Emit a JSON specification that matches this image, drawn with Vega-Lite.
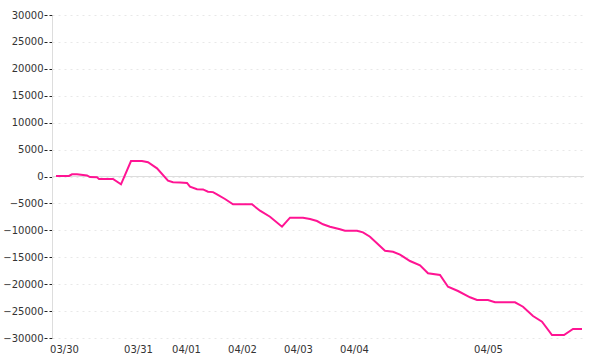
{
  "$schema": "https://vega.github.io/schema/vega-lite/v6.json",
  "width": 532,
  "height": 323,
  "autosize": "none",
  "padding": {"left": 52, "top": 15, "right": 16, "bottom": 22},
  "background": "white",
  "config": {
    "view": {"stroke": null},
    "axis": {"labelFont": "DejaVu Sans", "labelFontSize": 10, "labelColor": "#333", "titleFont": "DejaVu Sans"}
  },
  "data": {
    "values": [
      {"i": 4, "v": 100}, {"i": 17, "v": 100}, {"i": 20, "v": 400}, {"i": 25, "v": 400},
      {"i": 35, "v": 200}, {"i": 38, "v": -100}, {"i": 45, "v": -150}, {"i": 47, "v": -450},
      {"i": 61, "v": -450}, {"i": 69, "v": -1450}, {"i": 79, "v": 2880}, {"i": 90, "v": 2880},
      {"i": 96, "v": 2640}, {"i": 105, "v": 1520}, {"i": 116, "v": -780}, {"i": 121, "v": -1080},
      {"i": 128, "v": -1100}, {"i": 135, "v": -1200}, {"i": 138, "v": -1900}, {"i": 145, "v": -2380},
      {"i": 151, "v": -2400}, {"i": 156, "v": -2820}, {"i": 161, "v": -2900}, {"i": 165, "v": -3300},
      {"i": 173, "v": -4180}, {"i": 181, "v": -5170}, {"i": 200, "v": -5170}, {"i": 208, "v": -6350},
      {"i": 218, "v": -7470}, {"i": 230, "v": -9320}, {"i": 238, "v": -7650}, {"i": 251, "v": -7650},
      {"i": 258, "v": -7900}, {"i": 265, "v": -8270}, {"i": 271, "v": -8880}, {"i": 278, "v": -9320},
      {"i": 288, "v": -9810}, {"i": 293, "v": -10070}, {"i": 305, "v": -10070}, {"i": 311, "v": -10370},
      {"i": 318, "v": -11180}, {"i": 333, "v": -13780}, {"i": 341, "v": -13970}, {"i": 348, "v": -14500},
      {"i": 358, "v": -15700}, {"i": 368, "v": -16500}, {"i": 376, "v": -17980}, {"i": 388, "v": -18290},
      {"i": 396, "v": -20470}, {"i": 406, "v": -21270}, {"i": 418, "v": -22440}, {"i": 425, "v": -22940},
      {"i": 436, "v": -22940}, {"i": 443, "v": -23370}, {"i": 463, "v": -23370}, {"i": 471, "v": -24190},
      {"i": 481, "v": -25920}, {"i": 490, "v": -26970}, {"i": 500, "v": -29440}, {"i": 512, "v": -29440},
      {"i": 521, "v": -28330}, {"i": 530, "v": -28330}
    ]
  },
  "encoding": {
    "y": {
      "field": "v", "type": "quantitative",
      "scale": {"domain": [-30000, 30000], "nice": false},
      "axis": {
        "title": null, "values": [-30000, -25000, -20000, -15000, -10000, -5000, 0, 5000, 10000, 15000, 20000, 25000, 30000],
        "format": "d", "domain": true, "domainColor": "#dddddd", "domainWidth": 1,
        "ticks": true, "tickSize": 8, "tickColor": "#222", "tickDash": [3, 2], "tickWidth": 1,
        "labelPadding": 1, "labelFlush": false, "labelOverlap": false, "labelBound": false,
        "grid": true, "gridColor": "#e8e8e8", "gridDash": [2, 4], "gridWidth": 1
      }
    }
  },
  "layer": [
    {
      "mark": {"type": "rule", "color": "#dddddd", "strokeWidth": 1},
      "encoding": {"y": {"datum": 0, "type": "quantitative"}}
    },
    {
      "mark": {"type": "line", "color": "#ff1493", "strokeWidth": 2, "interpolate": "linear"},
      "encoding": {
        "x": {
          "field": "i", "type": "quantitative",
          "scale": {"domain": [0, 532], "nice": false, "zero": false},
          "axis": {
            "title": null, "grid": false, "domain": false, "ticks": false,
            "values": [12, 86, 134, 190, 246, 302, 436],
            "labelFlush": false, "labelPadding": 6, "labelOverlap": false,
            "labelExpr": "datum.value == 12 ? '03/30' : datum.value == 86 ? '03/31' : datum.value == 134 ? '04/01' : datum.value == 190 ? '04/02' : datum.value == 246 ? '04/03' : datum.value == 302 ? '04/04' : '04/05'"
          }
        }
      }
    }
  ]
}
